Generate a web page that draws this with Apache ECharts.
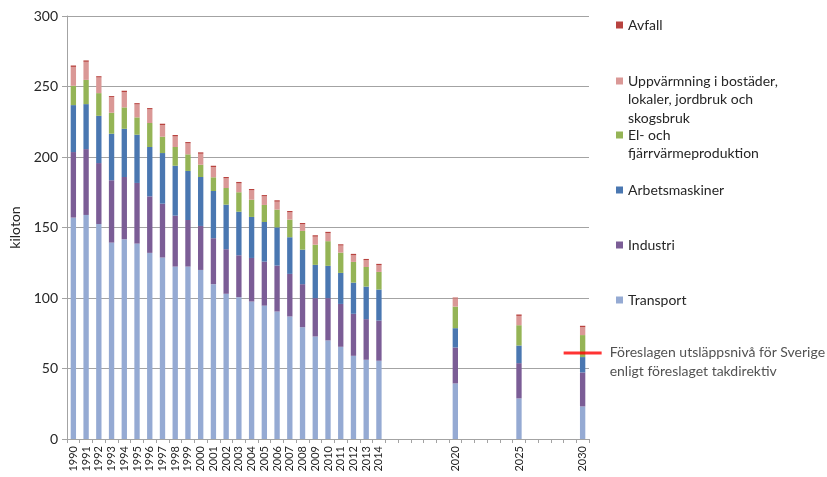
<!DOCTYPE html>
<html>
<head>
<meta charset="utf-8">
<script src="https://cdn.jsdelivr.net/npm/echarts@6/dist/echarts.min.js"></script>
<style>
  html, body { margin: 0; padding: 0; background: #fff; }
  #chart { width: 827px; height: 477px; }
</style>
</head>
<body>
<div id="chart"></div>
<script>
// år som har staplar (övriga år på axeln är tomma)
var years = ['1990','1991','1992','1993','1994','1995','1996','1997','1998','1999','2000','2001','2002',
  '2003','2004','2005','2006','2007','2008','2009','2010','2011','2012','2013','2014','2020','2025','2030'];

var transport = [157, 158.9, 152.5, 139.3, 141.7, 138.6, 132, 128.7, 122.3, 122.3, 119.9, 109.8, 103, 100.6,
  97.5, 94.6, 90.4, 86.9, 79.3, 72.7, 69.9, 65.4, 59, 56.2, 55.5, 39.4, 28.8, 23.1];
var industri = [46.5, 46.7, 43.2, 44.2, 44.1, 43, 40.1, 38.2, 36.1, 33, 31.2, 32.6, 31.6, 29.7,
  30.9, 31.2, 32.6, 30.2, 30.5, 27.2, 30, 30.4, 29.8, 28.8, 28.5, 25.5, 25, 24.1];
var arbetsmaskiner = [33.3, 31.9, 33.5, 33, 34.2, 34.2, 35, 35.9, 35.4, 34.8, 34.7, 33.5, 31.6, 30.9,
  29.1, 28.1, 27.1, 26, 24.5, 23.6, 22.9, 22, 22.1, 23.1, 22, 13.7, 12.5, 10.9];
var elFjarrvarme = [13.7, 17.2, 16.1, 14.9, 15.2, 12.3, 17, 11.6, 13.3, 11.8, 8.7, 9.7, 11.8, 13.8,
  12.2, 12.1, 12.6, 12.5, 13.3, 14.3, 17.5, 14.4, 14.7, 13.9, 12.5, 15.3, 14.4, 15.6];
var uppvarmning = [13.4, 12.8, 11.1, 11.1, 10.8, 9.2, 9.7, 8.2, 7.5, 7.8, 7.8, 7.3, 6.9, 6.3,
  6.7, 6.1, 5.6, 5.2, 4.7, 5.7, 5.7, 5, 4.7, 4.8, 4.8, 5.9, 6.6, 5.6];
var avfall = [1, 1, 0.9, 0.7, 1, 0.9, 0.9, 1, 1, 0.9, 1, 0.9, 0.9, 1,
  0.9, 0.9, 1, 0.9, 0.9, 1, 0.9, 0.9, 1, 0.9, 0.9, 0.5, 1, 1];

// föreslagen nivå (takdirektiv) för 2030
var takYear = '2030';
var takValue = 61;

var yTicks = [0, 50, 100, 150, 200, 250, 300];

// kategoriaxeln går år för år 1990-2030
var axisYears = [];
for (var y = 1990; y <= 2030; y++) axisYears.push(String(y));

function toAxis(arr) {
  return axisYears.map(function (yr) {
    var i = years.indexOf(yr);
    return i < 0 ? null : arr[i];
  });
}

var font = 'Lato';
var txt = '#262626';
var gray = '#a3a3a3';

var seriesDefs = [
  { name: 'Transport', data: transport, color: '#95aad3' },
  { name: 'Industri', data: industri, color: '#7b5d96' },
  { name: 'Arbetsmaskiner', data: arbetsmaskiner, color: '#4a77b1' },
  { name: 'El- och\nfjärrvärmeproduktion', data: elFjarrvarme, color: '#95b456' },
  { name: 'Uppvärmning i bostäder,\nlokaler, jordbruk och\nskogsbruk', data: uppvarmning, color: '#da9896' },
  { name: 'Avfall', data: avfall, color: '#b8433f' }
];

var series = seriesDefs.map(function (d) {
  return {
    name: d.name,
    type: 'bar',
    stack: 'total',
    barWidth: '42%',
    itemStyle: { color: d.color },
    data: toAxis(d.data)
  };
});

series.push({
  name: 'tak',
  type: 'scatter',
  symbol: 'rect',
  symbolSize: [38, 3],
  itemStyle: { color: '#ff0000' },
  z: 5,
  label: {
    show: true,
    position: 'right',
    distance: 8,
    offset: [0, 9],
    color: txt,
    fontFamily: font,
    fontSize: 14,
    lineHeight: 18.5,
    formatter: 'Föreslagen utsläppsnivå för Sverige\nenligt föreslaget takdirektiv'
  },
  data: [[takYear, takValue]]
});

// en legend per post; markören ligger vid första textraden som i Excel
var legendPos = [
  { name: 'Avfall', center: 25, lines: 1 },
  { name: 'Uppvärmning i bostäder,\nlokaler, jordbruk och\nskogsbruk', center: 81, lines: 3 },
  { name: 'El- och\nfjärrvärmeproduktion', center: 135, lines: 2 },
  { name: 'Arbetsmaskiner', center: 190, lines: 1 },
  { name: 'Industri', center: 245, lines: 1 },
  { name: 'Transport', center: 300, lines: 1 }
];
var lh = 18.5;
var legends = legendPos.map(function (p) {
  var extra = p.lines - 1;
  var prefix = '';
  for (var k = 0; k < extra; k++) prefix += '\n';
  var total = p.lines + extra;
  return {
    orient: 'vertical',
    left: 616,
    top: p.center - total * lh / 2,
    padding: 0,
    itemWidth: 7,
    itemHeight: 7,
    icon: 'rect',
    selectedMode: false,
    formatter: function (name) { return prefix + name; },
    textStyle: { color: txt, fontFamily: font, fontSize: 14, lineHeight: lh },
    data: [p.name]
  };
});

var chart = echarts.init(document.getElementById('chart'));
var option = {
  animation: false,
  backgroundColor: '#fff',
  grid: { left: 66, right: 238, top: 16, bottom: 38 },
  legend: legends,
  xAxis: {
    type: 'category',
    data: axisYears,
    axisLine: { lineStyle: { color: gray } },
    axisTick: { show: true, interval: 0, length: 4, lineStyle: { color: gray } },
    axisLabel: {
      interval: 0,
      rotate: 90,
      margin: 7,
      color: txt,
      fontFamily: font,
      fontSize: 11,
      formatter: function (v) { return years.indexOf(v) >= 0 ? v : ''; }
    }
  },
  yAxis: {
    type: 'value',
    min: yTicks[0],
    max: yTicks[yTicks.length - 1],
    interval: 50,
    name: 'kiloton',
    nameLocation: 'middle',
    nameGap: 45,
    nameTextStyle: { color: txt, fontFamily: font, fontSize: 14 },
    axisLine: { show: true, lineStyle: { color: gray } },
    axisTick: { show: true, length: 5, lineStyle: { color: gray } },
    splitLine: { lineStyle: { color: gray } },
    axisLabel: { color: txt, fontFamily: font, fontSize: 14, margin: 9 }
  },
  series: series
};
chart.setOption(option);
</script>
</body>
</html>
